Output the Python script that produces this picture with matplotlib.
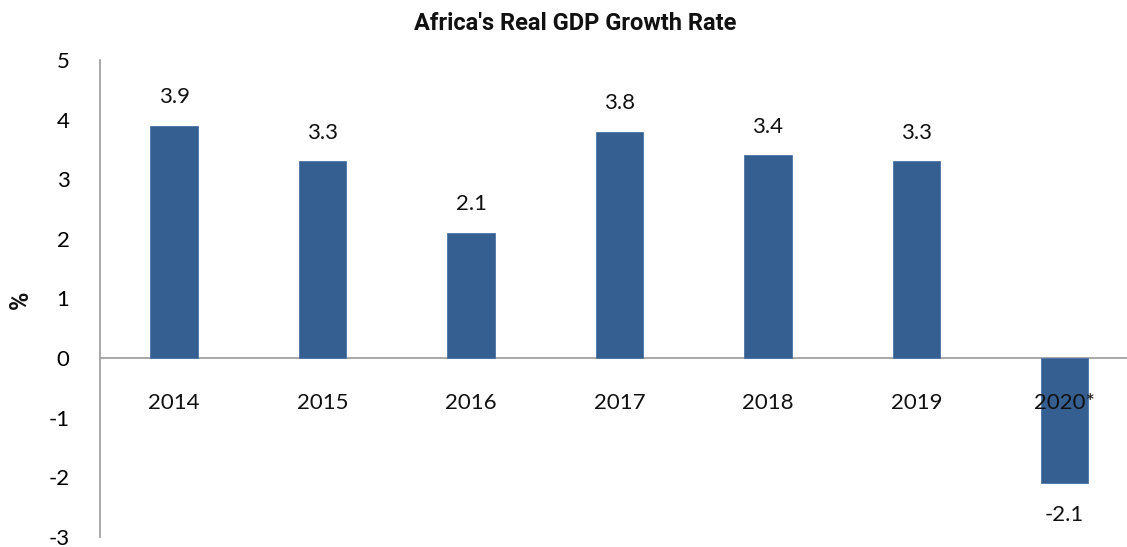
import matplotlib
matplotlib.use("Agg")
import matplotlib.pyplot as plt
from matplotlib import font_manager

years = ["2014", "2015", "2016", "2017", "2018", "2019", "2020*"]
growth = [3.9, 3.3, 2.1, 3.8, 3.4, 3.3, -2.1]
yticks = [-3, -2, -1, 0, 1, 2, 3, 4, 5]
title = "Africa's Real GDP Growth Rate"

avail = {f.name for f in font_manager.fontManager.ttflist}
narrow = "Liberation Sans Narrow" if "Liberation Sans Narrow" in avail else "Roboto"
tickfont = "Lato"

fig = plt.figure(figsize=(11.27, 5.47), dpi=100)
W, H = 1127, 547
ax = fig.add_axes([100 / W, 1 - 537 / H, (1127 - 100) / W, 477 / H])

x = list(range(len(years)))
ax.bar(x, growth, width=0.32, color="#365F91", edgecolor="#4a74a8", linewidth=0.6, zorder=2)
ax.set_xlim(-0.5, 6.42)
ax.set_ylim(-3, 5)
ax.axhline(0, color="#999999", linewidth=1.2, zorder=1)

for s in ["top", "right", "bottom"]:
    ax.spines[s].set_visible(False)
ax.spines["left"].set_color("#999999")
ax.spines["left"].set_linewidth(1.2)

ax.set_xticks([])
ax.set_yticks(yticks)
ax.set_yticklabels([str(t) for t in yticks], fontfamily=tickfont, fontsize=16)
ax.tick_params(axis="y", length=0, pad=22)

for xi, (lab, v) in enumerate(zip(years, growth)):
    ax.text(xi, -0.75, lab, ha="center", va="center", fontsize=16, fontfamily=tickfont, color="#111111", zorder=3)
    if v >= 0:
        ax.text(xi, v + 0.48, f"{v:.1f}", ha="center", va="center", fontsize=16, fontfamily=tickfont, color="#111111")
    else:
        ax.text(xi, v - 0.53, f"{v:.1f}", ha="center", va="center", fontsize=16, fontfamily=tickfont, color="#111111")

fig.text(575 / W, 1 - 23 / H, title, ha="center", va="center", fontsize=17,
         fontweight="bold", fontfamily=narrow, color="#111111")
fig.text(21 / W, 1 - 300 / H, "%", ha="center", va="center", rotation=90,
         fontsize=18, fontweight="bold", fontfamily=narrow, color="#111111")

fig.savefig("out.png", dpi=100)
